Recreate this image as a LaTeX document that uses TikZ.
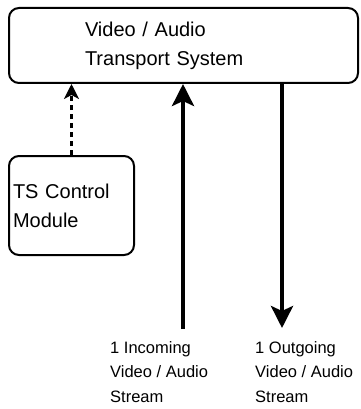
\documentclass[tikz,border=0pt]{standalone}
\usepackage{fontspec}
\setmainfont{Liberation Sans}
\usetikzlibrary{arrows.meta,positioning}
\tikzset{
  box/.style={draw, thick, rounded corners=10pt, line width=2pt, align=left},
  flow/.style={line width=4pt, -{Stealth[length=22pt, width=22pt, inset=5pt]}},
  ctrlflow/.style={line width=2.5pt, dash pattern=on 5pt off 4pt, -{Stealth[length=15pt, width=15pt, inset=4pt]}},
  label/.style={anchor=north west, inner sep=0pt, align=left, font=\fontsize{16.5}{24.5}\selectfont}
}
\begin{document}
\begin{tikzpicture}[x=1pt, y=-1pt]
  \useasboundingbox (0,0) rectangle (360,409);
  \node[box, text width=197pt, inner xsep=76pt, minimum height=75pt, font=\fontsize{20}{29}\selectfont] (sys) at (183.5,45.5) {Video / Audio\\Transport System};
  \node[box, text width=117pt, inner xsep=4pt, minimum height=99pt, font=\fontsize{20}{29}\selectfont] (ctrl) at (71.5,205.5) {TS Control\\Module};
  \coordinate (inB) at (183,329);
  \coordinate (outB) at (282,328);
  \draw[ctrlflow] (ctrl.north) -- (sys.south -| ctrl.north);
  \draw[flow] (inB) -- (sys.south -| inB);
  \draw[flow] (sys.south -| outB) -- (outB);
  \node[label] (inL) at (110,341) {1 Incoming\\Video / Audio\\Stream};
  \node[label] (outL) at (255,341) {1 Outgoing\\Video / Audio\\Stream};
\end{tikzpicture}
\end{document}
